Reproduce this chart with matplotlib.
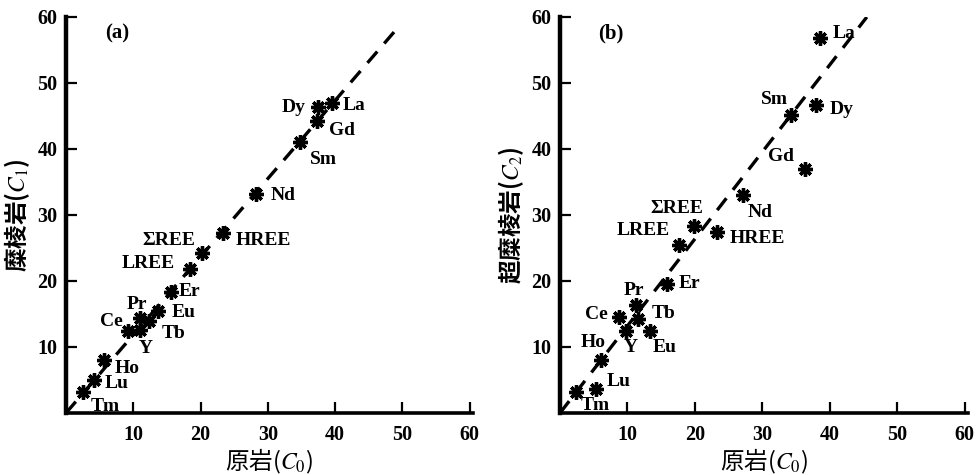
import matplotlib
matplotlib.use("Agg")
import matplotlib.pyplot as plt

plt.rcParams['font.family'] = ['Liberation Serif', 'Noto Sans CJK SC', 'DejaVu Sans']
plt.rcParams['mathtext.fontset'] = 'stix'

# ---- data (a): 原岩 C0 vs 糜棱岩 C1 ----
elements_a = ['La', 'Dy', 'Gd', 'Sm', 'Nd', 'HREE', 'ΣREE', 'LREE', 'Er', 'Eu',
              'Pr', 'Tb', 'Ce', 'Y', 'Ho', 'Lu', 'Tm']
c0_a = [39.5, 37.5, 37.3, 34.8, 28.2, 23.3, 20.2, 18.4, 15.6, 13.7,
        11.0, 12.3, 9.2, 11.0, 5.7, 4.2, 2.6]
c1_a = [47.0, 46.3, 44.2, 41.0, 33.2, 27.3, 24.2, 21.8, 18.4, 15.4,
        14.4, 14.0, 12.5, 12.6, 8.0, 5.0, 3.2]
line_a_x = [0, 49]
line_a_y = [0, 58]

# ---- data (b): 原岩 C0 vs 超糜棱岩 C2 ----
elements_b = ['La', 'Sm', 'Dy', 'Gd', 'Nd', 'ΣREE', 'HREE', 'LREE', 'Er', 'Pr',
              'Tb', 'Ce', 'Ho', 'Y', 'Eu', 'Lu', 'Tm']
c0_b = [38.6, 34.3, 37.9, 36.3, 27.2, 19.9, 23.3, 17.7, 15.8, 11.3,
        11.6, 8.8, 6.1, 9.8, 13.3, 5.3, 2.4]
c2_b = [56.8, 45.2, 46.6, 37.0, 33.0, 28.3, 27.4, 25.5, 19.6, 16.3,
        14.3, 14.6, 8.1, 12.5, 12.4, 3.6, 3.2]
line_b_x = [0, 45.5]
line_b_y = [0, 60]

ticks = [10, 20, 30, 40, 50, 60]

# label offsets in pixels (dx, dy), style only
offs_a = {'La': (22, -3), 'Dy': (-25, 0), 'Gd': (25, -9), 'Sm': (23, -17),
          'Nd': (27, -2), 'HREE': (41, -8), 'ΣREE': (-33, 13), 'LREE': (-42, 6),
          'Er': (19, 0), 'Eu': (25, -1), 'Pr': (-3, 13), 'Tb': (25, -13),
          'Ce': (-17, 9), 'Y': (6, -19), 'Ho': (23, -8), 'Lu': (22, -4), 'Tm': (22, -15)}
offs_b = {'La': (24, 5), 'Sm': (-17, 15), 'Dy': (26, -4), 'Gd': (-24, 12),
          'Nd': (17, -17), 'ΣREE': (-17, 18), 'HREE': (40, -6), 'LREE': (-36, 14),
          'Er': (23, 0), 'Pr': (-2, 15), 'Tb': (25, 5), 'Ce': (-23, 2),
          'Ho': (-8, 17), 'Y': (5, -17), 'Eu': (15, -16), 'Lu': (23, 8), 'Tm': (19, -14)}

fig = plt.figure(figsize=(9.78, 4.75), dpi=100)
W, H = 978, 475
ax_a = fig.add_axes([66 / W, 1 - 413 / H, (473 - 66) / W, (413 - 17) / H])
ax_b = fig.add_axes([560 / W, 1 - 413 / H, (968 - 560) / W, (413 - 17) / H])

serif = ['Liberation Serif', 'DejaVu Serif']
cjk = ['Noto Sans CJK SC', 'DejaVu Sans']
label_font = dict(family=serif, fontweight='bold', fontsize=14)


def draw(ax, xs, ys, names, offs, lx, ly, tag, ylabel):
    ax.plot(lx, ly, color='black', lw=2.4, dashes=(4.5, 3.2), solid_capstyle='butt')
    ax.plot(xs, ys, linestyle='none', marker=(8, 2, 0), ms=10.5, mew=2.4, color='black')
    for x, y, n in zip(xs, ys, names):
        dx, dy = offs[n]
        ax.annotate(n, (x, y), xytext=(dx, dy), textcoords='offset pixels',
                    ha='center', va='center', **label_font)
    ax.set_xlim(0, 60.5)
    ax.set_ylim(0, 60)
    ax.set_xticks(ticks)
    ax.set_yticks(ticks)
    for s in ['top', 'right']:
        ax.spines[s].set_visible(False)
    ax.spines['left'].set_linewidth(3.2)
    ax.spines['bottom'].set_linewidth(2.6)
    ax.tick_params(direction='in', length=8, width=1.6, pad=6)
    ax.tick_params(axis='x', pad=9)
    for lab in ax.get_xticklabels() + ax.get_yticklabels():
        lab.set_fontweight('bold')
        lab.set_fontsize(14.5)
        lab.set_family(serif)
    ax.text(0.125, 0.958, tag, transform=ax.transAxes, ha='center', va='center',
            fontsize=15, fontweight='bold', family=serif)
    ax.set_xlabel('原岩($C_0$)', fontsize=17, family=cjk)
    ax.xaxis.set_label_coords(0.5, -0.085)
    ax.set_ylabel(ylabel, fontsize=17, fontweight='bold', family=cjk)
    ax.yaxis.set_label_coords(-0.083, 0.5)


draw(ax_a, c0_a, c1_a, elements_a, offs_a, line_a_x, line_a_y, '(a)', '糜棱岩($C_1$)')
draw(ax_b, c0_b, c2_b, elements_b, offs_b, line_b_x, line_b_y, '(b)', '超糜棱岩($C_2$)')

fig.savefig('out.png', dpi=100, facecolor='white')
